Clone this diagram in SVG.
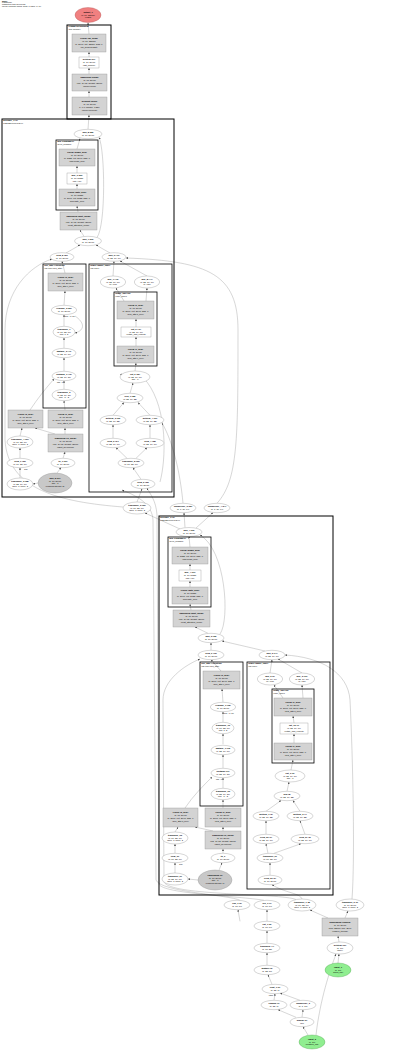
<svg xmlns="http://www.w3.org/2000/svg" width="400" height="1050" viewBox="0 0 400 1050">
<style>
.b{fill:#d3d3d3;stroke:#8c8c8c;stroke-width:.35}
.w{fill:#fff;stroke:#8c8c8c;stroke-width:.35}
.e{fill:#fff;stroke:#8c8c8c;stroke-width:.35}
.ge{fill:#c8c8c8;stroke:#8c8c8c;stroke-width:.35}
.red{fill:#f08080;stroke:#b05050;stroke-width:.35}
.grn{fill:#90ee90;stroke:#50a050;stroke-width:.35}
.c{fill:none;stroke:#000;stroke-width:1}
.ci{fill:none;stroke:#000;stroke-width:.8}
text{font-family:"Liberation Sans",Arial,sans-serif;font-size:2.2px;fill:#000;text-anchor:middle}
.h{font-weight:bold}
.l{text-anchor:start}
.s{font-size:1.9px}
.ti{font-size:1.8px}
#edges path{fill:none;stroke:#8c8c8c;stroke-width:.35;marker-end:url(#a)}
</style>
<defs>
<marker id="a" viewBox="0 0 10 10" refX="10" refY="5" markerWidth="2" markerHeight="2" orient="auto" markerUnits="userSpaceOnUse"><path d="M0,0L10,5L0,10z" fill="#444"/></marker>
</defs>
<g id="title">
<text class="l h ti" x="2" y="1.7">Model</text>
<text class="l ti" x="2" y="3.3">LlamaModel</text>
<text class="l ti" x="2" y="5.2">Parameters: total 12,945,792</text>
<text class="l ti" x="2" y="7">Layers: 2 decoder blocks, depth=3, batch=[1, 16]</text>
</g>
<g id="edges">
<path d="M89,34L88,22.6"/>
<path d="M89,57L89,52"/>
<path d="M89,74L89,68"/>
<path d="M89,97L89,91"/>
<path d="M88,129.3L89,115"/>
<path d="M77,149L80,138.6"/>
<path d="M77,173L77,166"/>
<path d="M77,189L77,184"/>
<path d="M78,212L77,206"/>
<path d="M84,236.4L80,230"/>
<path d="M97,237.5C106,225 105,150 99,137.5"/>
<path d="M66,253L80,245"/>
<path d="M110,253L96,245"/>
<path d="M65,273L62,261.3"/>
<path d="M64,305.3L65,291"/>
<path d="M64,326.3L64,314.7"/>
<path d="M64,348.3L64,337.7"/>
<path d="M64,371.3L64,357.7"/>
<path d="M64,389.3L64,380.7"/>
<path d="M65,410L64,400.7"/>
<path d="M65,434L65,428"/>
<path d="M55,434L35,428"/>
<path d="M63,458.3L65,452"/>
<path d="M57,473L61,467.6"/>
<path d="M20,436L22,428"/>
<path d="M20,458.3L20,448"/>
<path d="M20,478L20,467.7"/>
<path d="M38,483L33,484"/>
<path d="M30,410C38,398 46,388 54,379"/>
<path d="M123,507C60,502 8,490 5,440L5,330C5,290 30,266 52,259"/>
<path d="M75,316C84,322 86,330 75,333"/>
<path d="M113,276L114,261.3"/>
<path d="M147,276L120,261"/>
<path d="M124,301L116,288"/>
<path d="M146,301L147,288"/>
<path d="M136,327L136,319"/>
<path d="M136,346L136,337"/>
<path d="M135,371L136,363"/>
<path d="M130,393.3L133,383"/>
<path d="M113,415.3L124,402.5"/>
<path d="M150,415.3L138,402.5"/>
<path d="M113,438.3L113,424.7"/>
<path d="M150,438.3L150,424.7"/>
<path d="M127,458.3L116,447.7"/>
<path d="M136,458.3L147,447.7"/>
<path d="M141,479.3L133,467.7"/>
<path d="M137,502L142,488.7"/>
<path d="M183,503.3C180,470 172,440 162,423"/>
<path d="M217,503.3C238,480 238,440 238,330C238,275 210,261 126,258"/>
<path d="M160,482C166,460 168,410 147,382C140,374 130,372 120,375"/>
<path d="M185,527.5L184,512.7"/>
<path d="M180,529L145,513"/>
<path d="M196,528L213,512.7"/>
<path d="M190,547L189,536.5"/>
<path d="M190,570L190,564"/>
<path d="M190,587L190,581"/>
<path d="M191,610L190,604"/>
<path d="M208,633.3L195,627"/>
<path d="M220,634C230,620 226,550 200,535"/>
<path d="M211,650.3L211,642.7"/>
<path d="M265,651L222,641"/>
<path d="M221,671L211,659.7"/>
<path d="M223,702.3L222,689"/>
<path d="M223,722.3L223,711.7"/>
<path d="M223,744.3L223,733.7"/>
<path d="M223,768.3L223,754.7"/>
<path d="M223,788.3L223,777.7"/>
<path d="M223,808L223,799.7"/>
<path d="M223,831L223,827"/>
<path d="M213,831L195,827"/>
<path d="M223,853.3L223,849"/>
<path d="M219,870.3L222,862.7"/>
<path d="M175,832L178,827"/>
<path d="M175,853.3L175,844"/>
<path d="M175,873L175,862.7"/>
<path d="M198,880L188,879"/>
<path d="M185,808C193,796 203,786 212,777"/>
<path d="M296,899.5C280,893 170,896 164,882L163,700C163,680 185,665 200,659"/>
<path d="M270,673L272,659.7"/>
<path d="M302,673L278,659"/>
<path d="M283,698L274,685"/>
<path d="M303,698L302,685"/>
<path d="M294,723L293,716"/>
<path d="M294,743L294,734"/>
<path d="M291,770L293,760"/>
<path d="M287,791.3L289,782"/>
<path d="M266,811.3L281,800.5"/>
<path d="M300,811.3L293,800.5"/>
<path d="M266,834.3L266,820.7"/>
<path d="M305,834.3L300,820.7"/>
<path d="M268,853.3L266,843.7"/>
<path d="M274,853.3L301,843.7"/>
<path d="M270,875.3L270,862.7"/>
<path d="M240,900.3C230,895 160,892 156,880L153,520C152,505 140,497 122,490"/>
<path d="M264,900.3C240,896 162,894 159,884L157,515C156,500 150,494 147,488"/>
<path d="M302,899C300,893 285,893 272,884.7"/>
<path d="M352,899C355,860 353,760 350,700C348,672 320,657 285,655"/>
<path d="M240,921.3L238,909.7"/>
<path d="M267,921.3L267,909.7"/>
<path d="M267,943.3L267,930.7"/>
<path d="M267,965.3L267,952.7"/>
<path d="M272,984.3L268,974.7"/>
<path d="M274,1000.3L275,993.7"/>
<path d="M300,1000.3L280,993"/>
<path d="M296,1017.3L278,1009.7"/>
<path d="M302,1017.3L303,1009.7"/>
<path d="M308,1035L303,1026.7"/>
<path d="M316,1035C320,1000 330,970 336,954"/>
<path d="M338,963L339,954"/>
<path d="M339,942L338,936"/>
<path d="M328,918L310,910"/>
<path d="M345,918L348,911"/>
</g>
<g id="n_output"><ellipse class="red" cx="88" cy="15" rx="13" ry="7.5"/><text class="h" x="88" y="12.8">output_1</text><text x="88" y="15.6">[1, 16, 32000]</text><text x="88" y="18.4">(logits)</text></g>
<g id="c_top"><rect class="c" x="67" y="25" width="44" height="94"/><text class="l h" x="68.5" y="27.4">LlamaForCausalLM</text><text class="l" x="68.5" y="29.8">(top module)</text></g>
<g id="n_lm_head"><rect class="b" x="72" y="34" width="34" height="18"/><text class="h" x="89" y="38.6">Linear (lm_head)</text><text x="89" y="41.6">[1, 16, 32000]</text><text x="89" y="44.6">in=2048, out=32000, bias=F</text><text x="89" y="47.6">(lm_head.weight)</text></g>
<g id="n_getitem"><rect class="w" x="79" y="57" width="20" height="11"/><text class="h" x="89" y="60.4">getitem (61)</text><text x="89" y="63.2">[1, 16, 2048]</text><text x="89" y="66">(last_hidden)</text></g>
<g id="n_norm"><rect class="b" x="72" y="74" width="35" height="17"/><text class="h" x="89.5" y="78.1">RMSNorm (norm)</text><text x="89.5" y="81.1">[1, 16, 2048]</text><text x="89.5" y="84.1">eps=1e-05, weight=[2048]</text><text x="89.5" y="87.1">(model.norm)</text></g>
<g id="n_drop"><rect class="b" x="72" y="97" width="35" height="18"/><text class="h" x="89.5" y="101.6">Dropout (drop)</text><text x="89.5" y="104.6">[1, 16, 2048]</text><text x="89.5" y="107.6">p=0.0, inplace=False</text><text x="89.5" y="110.6">(model.dropout)</text></g>
<g id="c_layer1"><rect class="c" x="2" y="119" width="172" height="378"/><text class="l h" x="3.2" y="121.4">Decoder_1 (1)</text><text class="l" x="3.2" y="123.8">LlamaDecoderLayer</text></g>
<g id="n_add8"><ellipse class="e" cx="88" cy="134" rx="14" ry="4.7"/><text class="h" x="88" y="133.4">add_8 (58)</text><text x="88" y="136.2">[1, 16, 2048]</text></g>
<g id="c_mlp1"><rect class="ci" x="56" y="140" width="42" height="70"/><text class="l h" x="57.2" y="142.3">mlp (LlamaMLP)</text><text class="l" x="57.2" y="144.6">(feed_forward)</text></g>
<g id="n_down1"><rect class="b" x="59" y="149" width="36" height="17"/><text class="h" x="77" y="153.1">Linear (down_proj)</text><text x="77" y="156.1">[1, 16, 2048]</text><text x="77" y="159.1">in=5632, out=2048, bias=F</text><text x="77" y="162.1">(mlp.down_proj)</text></g>
<g id="n_mul9"><rect class="w" x="67" y="173" width="20" height="11"/><text class="h" x="77" y="176.4">mul_9 (56)</text><text x="77" y="179.2">[1, 16, 5632]</text><text x="77" y="182">(act * up)</text></g>
<g id="n_gate1"><rect class="b" x="59" y="189" width="36" height="17"/><text class="h" x="77" y="193.1">Linear (gate_proj)</text><text x="77" y="196.1">[1, 16, 5632]</text><text x="77" y="199.1">in=2048, out=5632, bias=F</text><text x="77" y="202.1">(mlp.gate_proj)</text></g>
<g id="n_post1"><rect class="b" x="60" y="212" width="37" height="18"/><text class="h" x="78.5" y="216.6">RMSNorm (post_norm)</text><text x="78.5" y="219.6">[1, 16, 2048]</text><text x="78.5" y="222.6">eps=1e-05, weight=[2048]</text><text x="78.5" y="225.6">(post_attention_norm)</text></g>
<g id="n_add7"><ellipse class="e" cx="88" cy="241" rx="13.5" ry="4.7"/><text class="h" x="88" y="240.4">add_7 (53)</text><text x="88" y="243.2">[1, 16, 2048]</text></g>
<g id="n_view5"><ellipse class="e" cx="62" cy="257" rx="12" ry="4.3"/><text class="h" x="62" y="256.4">view_5 (51)</text><text x="62" y="259.2">[1, 16, 2048]</text></g>
<g id="n_add6"><ellipse class="e" cx="114" cy="257" rx="12" ry="4.3"/><text class="h" x="114" y="256.4">add_6 (49)</text><text x="114" y="259.2">[1, 32, 16, 64]</text></g>
<g id="c_attn1"><rect class="ci" x="43" y="264" width="43" height="144"/><text class="l h" x="44.2" y="266.3">self_attn (Attention)</text><text class="l" x="44.2" y="268.6">(layers.1.self_attn)</text></g>
<g id="n_o1"><rect class="b" x="48" y="273" width="35" height="18"/><text class="h" x="65.5" y="277.6">Linear (o_proj)</text><text x="65.5" y="280.6">[1, 16, 2048]</text><text x="65.5" y="283.6">in=2048, out=2048, bias=F</text><text x="65.5" y="286.6">(self_attn.o_proj)</text></g>
<g id="n_reshape3"><ellipse class="e" cx="64" cy="310" rx="12.7" ry="4.7"/><text class="h" x="64" y="309.4">reshape_3 (50)</text><text x="64" y="312.2">[1, 16, 2048]</text><text class="s" x="70" y="317.4">size=(1, 16)</text></g>
<g id="n_transpose7"><ellipse class="e" cx="64" cy="332" rx="11" ry="5.7"/><text class="h" x="64" y="330">transpose_7</text><text x="64" y="332.6">[1, 16, 32, 64]</text><text x="64" y="335.2">dim=1, 2</text></g>
<g id="n_matmul3"><ellipse class="e" cx="64" cy="353" rx="12" ry="4.7"/><text class="h" x="64" y="352.4">matmul_3 (47)</text><text x="64" y="355.2">[1, 32, 16, 64]</text></g>
<g id="n_softmax1"><ellipse class="e" cx="64" cy="376" rx="12" ry="4.7"/><text class="h" x="64" y="375.4">softmax_1 (46)</text><text x="64" y="378.2">[1, 32, 16, 16]</text><text class="s" x="60" y="383.2">dim=-1</text></g>
<g id="n_transpose6"><ellipse class="e" cx="64" cy="395" rx="12" ry="5.7"/><text class="h" x="64" y="393">transpose_6</text><text x="64" y="395.6">[1, 32, 16, 16]</text><text x="64" y="398.2">dim=-1, -2</text></g>
<g id="c_rope1"><rect class="ci" x="89" y="264" width="83" height="228"/><text class="l h" x="90.2" y="266.3">rotary (apply_rope)</text><text class="l" x="90.2" y="268.6">(layers.1)</text></g>
<g id="n_mul7"><ellipse class="e" cx="113" cy="282" rx="12.7" ry="6"/><text class="h" x="113" y="280">mul_7 (43)</text><text x="113" y="282.6">[1, 32, 16, 64]</text><text x="113" y="285.2">(q * cos)</text></g>
<g id="n_mul8"><ellipse class="e" cx="147" cy="282" rx="12.7" ry="6"/><text class="h" x="147" y="280">mul_8 (44)</text><text x="147" y="282.6">[1, 32, 16, 64]</text><text x="147" y="285.2">(k * sin)</text></g>
<g id="c_inner1"><rect class="ci" x="114" y="292" width="43" height="74"/><text class="l h" x="115.2" y="294.3">rotate_half (fn)</text><text class="l" x="115.2" y="296.6">(rope_inner)</text></g>
<g id="n_k1"><rect class="b" x="117" y="301" width="37" height="18"/><text class="h" x="135.5" y="305.6">Linear (k_proj)</text><text x="135.5" y="308.6">[1, 16, 2048]</text><text x="135.5" y="311.6">in=2048, out=2048, bias=F</text><text x="135.5" y="314.6">(self_attn.k_proj)</text></g>
<g id="n_cat3"><rect class="w" x="121" y="327" width="30" height="10"/><text class="h" x="136" y="329.9">cat_3 (41)</text><text x="136" y="332.5">[1, 32, 16, 64]</text><text x="136" y="335.1">(rotate_half_concat)</text></g>
<g id="n_v1"><rect class="b" x="117" y="346" width="37" height="17"/><text class="h" x="135.5" y="350.1">Linear (v_proj)</text><text x="135.5" y="353.1">[1, 16, 2048]</text><text x="135.5" y="356.1">in=2048, out=2048, bias=F</text><text x="135.5" y="359.1">(self_attn.v_proj)</text></g>
<g id="n_cat2"><ellipse class="e" cx="135" cy="377" rx="15" ry="6"/><text class="h" x="135" y="375">cat_2 (39)</text><text x="135" y="377.6">[1, 32, 16, 64]</text><text x="135" y="380.2">dim=-1</text></g>
<g id="n_neg1"><ellipse class="e" cx="130" cy="398" rx="13" ry="4.7"/><text class="h" x="130" y="397.4">neg_1 (38)</text><text x="130" y="400.2">[1, 32, 16, 32]</text></g>
<g id="n_getitem3"><ellipse class="e" cx="113" cy="420" rx="13" ry="4.7"/><text class="h" x="113" y="419.4">getitem_3 (36)</text><text x="113" y="422.2">[1, 32, 16, 32]</text></g>
<g id="n_getitem4"><ellipse class="e" cx="150" cy="420" rx="14" ry="4.7"/><text class="h" x="150" y="419.4">getitem_4 (37)</text><text x="150" y="422.2">[1, 32, 16, 32]</text></g>
<g id="n_view3"><ellipse class="e" cx="113" cy="443" rx="13" ry="4.7"/><text class="h" x="113" y="442.4">view_3 (34)</text><text x="113" y="445.2">[1, 32, 16, 64]</text></g>
<g id="n_view4"><ellipse class="e" cx="150" cy="443" rx="14" ry="4.7"/><text class="h" x="150" y="442.4">view_4 (35)</text><text x="150" y="445.2">[1, 32, 16, 64]</text></g>
<g id="n_transpose5"><ellipse class="e" cx="131" cy="463" rx="13" ry="4.7"/><text class="h" x="131" y="462.4">transpose_5 (33)</text><text x="131" y="465.2">[1, 16, 32, 64]</text></g>
<g id="n_view2"><ellipse class="e" cx="143" cy="484" rx="12" ry="4.7"/><text class="h" x="143" y="483.4">view_2 (32)</text><text x="143" y="486.2">[1, 16, 2048]</text></g>
<g id="n_q1"><rect class="b" x="8" y="410" width="35" height="18"/><text class="h" x="25.5" y="414.6">Linear (q_proj)</text><text x="25.5" y="417.6">[1, 16, 2048]</text><text x="25.5" y="420.6">in=2048, out=2048, bias=F</text><text x="25.5" y="423.6">(self_attn.q_proj)</text></g>
<g id="n_k1b"><rect class="b" x="48" y="410" width="35" height="18"/><text class="h" x="65.5" y="414.6">Linear (k_proj)</text><text x="65.5" y="417.6">[1, 16, 2048]</text><text x="65.5" y="420.6">in=2048, out=2048, bias=F</text><text x="65.5" y="423.6">(self_attn.k_proj)</text></g>
<g id="n_in1"><rect class="b" x="48" y="434" width="35" height="18"/><text class="h" x="65.5" y="438.6">RMSNorm (in_norm)</text><text x="65.5" y="441.6">[1, 16, 2048]</text><text x="65.5" y="444.6">eps=1e-05, weight=[2048]</text><text x="65.5" y="447.6">(input_layernorm)</text></g>
<g id="n_transpose4"><ellipse class="e" cx="20" cy="442" rx="13" ry="6"/><text class="h" x="20" y="440">transpose_4 (31)</text><text x="20" y="442.6">[1, 16, 32, 64]</text><text x="20" y="445.2">dim0=1, dim1=2</text></g>
<g id="n_view1"><ellipse class="e" cx="20" cy="463" rx="13" ry="4.7"/><text class="h" x="20" y="462.4">view_1 (30)</text><text x="20" y="465.2">[1, 16, 32, 64]</text><text class="s" x="26" y="470.2">size</text></g>
<g id="n_to1"><ellipse class="e" cx="63" cy="463" rx="12" ry="4.7"/><text class="h" x="63" y="462.4">to_1 (29)</text><text x="63" y="465.2">[1, 16, 2048]</text></g>
<g id="n_transpose3"><ellipse class="e" cx="20" cy="484" rx="13" ry="6"/><text class="h" x="20" y="482">transpose_3 (28)</text><text x="20" y="484.6">[1, 32, 16, 64]</text><text x="20" y="487.2">dim0=1, dim1=2</text></g>
<g id="n_add5"><ellipse class="ge" cx="55" cy="483" rx="17" ry="10"/><text class="h" x="55" y="479.2">add_5 (27)</text><text x="55" y="481.8">[1, 16, 2048]</text><text x="55" y="484.4">dim=-1</text><text x="55" y="487">(residual stream, 2)</text></g>
<g id="n_transpose2"><ellipse class="e" cx="137" cy="508" rx="14" ry="6"/><text class="h" x="137" y="506">transpose_2 (26)</text><text x="137" y="508.6">[1, 16, 32, 64]</text><text x="137" y="511.2">dim0=1, dim1=2</text></g>
<g id="n_unsq3"><ellipse class="e" cx="183" cy="508" rx="13" ry="4.7"/><text class="h" x="183" y="507.4">unsqueeze_3 (25)</text><text x="183" y="510.2">[1, 1, 16, 64]</text></g>
<g id="n_unsq4"><ellipse class="e" cx="217" cy="508" rx="13" ry="4.7"/><text class="h" x="217" y="507.4">unsqueeze_4 (24)</text><text x="217" y="510.2">[1, 1, 16, 64]</text></g>
<g id="c_layer0"><rect class="c" x="159" y="516" width="174" height="379"/><text class="l h" x="160.2" y="518.4">Decoder_0 (0)</text><text class="l" x="160.2" y="520.8">LlamaDecoderLayer</text></g>
<g id="n_add4"><ellipse class="e" cx="189" cy="532" rx="13" ry="4.5"/><text class="h" x="189" y="531.4">add_4 (23)</text><text x="189" y="534.2">[1, 16, 2048]</text></g>
<g id="c_mlp0"><rect class="ci" x="168" y="537" width="43" height="70"/><text class="l h" x="169.2" y="539.3">mlp (LlamaMLP)</text><text class="l" x="169.2" y="541.6">(feed_forward)</text></g>
<g id="n_down0"><rect class="b" x="172" y="547" width="36" height="17"/><text class="h" x="190" y="551.1">Linear (down_proj)</text><text x="190" y="554.1">[1, 16, 2048]</text><text x="190" y="557.1">in=5632, out=2048, bias=F</text><text x="190" y="560.1">(mlp.down_proj)</text></g>
<g id="n_mul4"><rect class="w" x="179" y="570" width="22" height="11"/><text class="h" x="190" y="573.4">mul_4 (21)</text><text x="190" y="576.2">[1, 16, 5632]</text><text x="190" y="579">(act * up)</text></g>
<g id="n_gate0"><rect class="b" x="172" y="587" width="36" height="17"/><text class="h" x="190" y="591.1">Linear (gate_proj)</text><text x="190" y="594.1">[1, 16, 5632]</text><text x="190" y="597.1">in=2048, out=5632, bias=F</text><text x="190" y="600.1">(mlp.gate_proj)</text></g>
<g id="n_post0"><rect class="b" x="173" y="610" width="37" height="17"/><text class="h" x="191.5" y="614.1">RMSNorm (post_norm)</text><text x="191.5" y="617.1">[1, 16, 2048]</text><text x="191.5" y="620.1">eps=1e-05, weight=[2048]</text><text x="191.5" y="623.1">(post_attention_norm)</text></g>
<g id="n_add3"><ellipse class="e" cx="211" cy="638" rx="13" ry="4.7"/><text class="h" x="211" y="637.4">add_3 (18)</text><text x="211" y="640.2">[1, 16, 2048]</text></g>
<g id="n_view0"><ellipse class="e" cx="211" cy="655" rx="13" ry="4.7"/><text class="h" x="211" y="654.4">view_0 (16)</text><text x="211" y="657.2">[1, 16, 2048]</text></g>
<g id="n_add2"><ellipse class="e" cx="272" cy="655" rx="13" ry="4.7"/><text class="h" x="272" y="654.4">add_2 (14)</text><text x="272" y="657.2">[1, 32, 16, 64]</text></g>
<g id="c_attn0"><rect class="ci" x="200" y="662" width="43" height="144"/><text class="l h" x="201.2" y="664.3">self_attn (Attention)</text><text class="l" x="201.2" y="666.6">(layers.0.self_attn)</text></g>
<g id="n_o0"><rect class="b" x="203" y="671" width="37" height="18"/><text class="h" x="221.5" y="675.6">Linear (o_proj)</text><text x="221.5" y="678.6">[1, 16, 2048]</text><text x="221.5" y="681.6">in=2048, out=2048, bias=F</text><text x="221.5" y="684.6">(self_attn.o_proj)</text></g>
<g id="n_reshape1"><ellipse class="e" cx="223" cy="707" rx="12.7" ry="4.7"/><text class="h" x="223" y="706.4">reshape_1 (15)</text><text x="223" y="709.2">[1, 16, 2048]</text><text class="s" x="229" y="714.4">size=(1, 16)</text></g>
<g id="n_transpose1b"><ellipse class="e" cx="223" cy="728" rx="11" ry="5.7"/><text class="h" x="223" y="726">transpose_1b</text><text x="223" y="728.6">[1, 16, 32, 64]</text><text x="223" y="731.2">dim=1, 2</text></g>
<g id="n_matmul1"><ellipse class="e" cx="223" cy="750" rx="12" ry="4.7"/><text class="h" x="223" y="749.4">matmul_1 (12)</text><text x="223" y="752.2">[1, 32, 16, 64]</text></g>
<g id="n_softmax0"><ellipse class="e" cx="223" cy="773" rx="12" ry="4.7"/><text class="h" x="223" y="772.4">softmax (11)</text><text x="223" y="775.2">[1, 32, 16, 16]</text><text class="s" x="219" y="780.2">dim=-1</text></g>
<g id="n_transpose0b"><ellipse class="e" cx="223" cy="794" rx="12" ry="5.7"/><text class="h" x="223" y="792">transpose_0b</text><text x="223" y="794.6">[1, 32, 16, 16]</text><text x="223" y="797.2">dim=-1, -2</text></g>
<g id="c_rope0"><rect class="ci" x="247" y="662" width="83" height="227"/><text class="l h" x="248.2" y="664.3">rotary (apply_rope)</text><text class="l" x="248.2" y="666.6">(layers.0)</text></g>
<g id="n_mul2"><ellipse class="e" cx="270" cy="679" rx="12.7" ry="6"/><text class="h" x="270" y="677">mul_2 (9)</text><text x="270" y="679.6">[1, 32, 16, 64]</text><text x="270" y="682.2">(q * cos)</text></g>
<g id="n_mul3"><ellipse class="e" cx="302" cy="679" rx="12.7" ry="6"/><text class="h" x="302" y="677">mul_3 (10)</text><text x="302" y="679.6">[1, 32, 16, 64]</text><text x="302" y="682.2">(k * sin)</text></g>
<g id="c_inner0"><rect class="ci" x="272" y="689" width="42" height="74"/><text class="l h" x="273.2" y="691.3">rotate_half (fn)</text><text class="l" x="273.2" y="693.6">(rope_inner)</text></g>
<g id="n_k0"><rect class="b" x="274" y="698" width="38" height="18"/><text class="h" x="293" y="702.6">Linear (k_proj)</text><text x="293" y="705.6">[1, 16, 2048]</text><text x="293" y="708.6">in=2048, out=2048, bias=F</text><text x="293" y="711.6">(self_attn.k_proj)</text></g>
<g id="n_cat1b"><rect class="w" x="280" y="723" width="28" height="11"/><text class="h" x="294" y="726.4">cat_1b (7)</text><text x="294" y="729.2">[1, 32, 16, 64]</text><text x="294" y="732">(rotate_half_concat)</text></g>
<g id="n_v0"><rect class="b" x="274" y="743" width="38" height="17"/><text class="h" x="293" y="747.1">Linear (v_proj)</text><text x="293" y="750.1">[1, 16, 2048]</text><text x="293" y="753.1">in=2048, out=2048, bias=F</text><text x="293" y="756.1">(self_attn.v_proj)</text></g>
<g id="n_cat0"><ellipse class="e" cx="290" cy="776" rx="15" ry="6"/><text class="h" x="290" y="774">cat_0 (6)</text><text x="290" y="776.6">[1, 32, 16, 64]</text><text x="290" y="779.2">dim=-1</text></g>
<g id="n_neg0"><ellipse class="e" cx="287" cy="796" rx="13" ry="4.7"/><text class="h" x="287" y="795.4">neg (5)</text><text x="287" y="798.2">[1, 32, 16, 32]</text></g>
<g id="n_getitem1"><ellipse class="e" cx="266" cy="816" rx="13" ry="4.7"/><text class="h" x="266" y="815.4">getitem_1 (3)</text><text x="266" y="818.2">[1, 32, 16, 32]</text></g>
<g id="n_getitem2"><ellipse class="e" cx="300" cy="816" rx="13" ry="4.7"/><text class="h" x="300" y="815.4">getitem_2 (4)</text><text x="300" y="818.2">[1, 32, 16, 32]</text></g>
<g id="n_view0b"><ellipse class="e" cx="266" cy="839" rx="13" ry="4.7"/><text class="h" x="266" y="838.4">view_0b (1)</text><text x="266" y="841.2">[1, 32, 16, 64]</text></g>
<g id="n_view0c"><ellipse class="e" cx="305" cy="839" rx="14" ry="4.7"/><text class="h" x="305" y="838.4">view_0c (2)</text><text x="305" y="841.2">[1, 32, 16, 64]</text></g>
<g id="n_transpose0c"><ellipse class="e" cx="270" cy="858" rx="13" ry="4.7"/><text class="h" x="270" y="857.4">transpose_0c</text><text x="270" y="860.2">[1, 16, 32, 64]</text></g>
<g id="n_view0d"><ellipse class="e" cx="270" cy="880" rx="12" ry="4.7"/><text class="h" x="270" y="879.4">view_0d (0)</text><text x="270" y="882.2">[1, 16, 2048]</text></g>
<g id="n_q0"><rect class="b" x="163" y="808" width="35" height="19"/><text class="h" x="180.5" y="813.1">Linear (q_proj)</text><text x="180.5" y="816.1">[1, 16, 2048]</text><text x="180.5" y="819.1">in=2048, out=2048, bias=F</text><text x="180.5" y="822.1">(self_attn.q_proj)</text></g>
<g id="n_k0b"><rect class="b" x="205" y="808" width="36" height="19"/><text class="h" x="223" y="813.1">Linear (k_proj)</text><text x="223" y="816.1">[1, 16, 2048]</text><text x="223" y="819.1">in=2048, out=2048, bias=F</text><text x="223" y="822.1">(self_attn.k_proj)</text></g>
<g id="n_in0"><rect class="b" x="205" y="831" width="36" height="18"/><text class="h" x="223" y="835.6">RMSNorm (in_norm)</text><text x="223" y="838.6">[1, 16, 2048]</text><text x="223" y="841.6">eps=1e-05, weight=[2048]</text><text x="223" y="844.6">(input_layernorm)</text></g>
<g id="n_transpose0d"><ellipse class="e" cx="175" cy="838" rx="13" ry="6"/><text class="h" x="175" y="836">transpose_0d</text><text x="175" y="838.6">[1, 16, 32, 64]</text><text x="175" y="841.2">dim0=1, dim1=2</text></g>
<g id="n_view0e"><ellipse class="e" cx="175" cy="858" rx="13" ry="4.7"/><text class="h" x="175" y="857.4">view_0e</text><text x="175" y="860.2">[1, 16, 32, 64]</text><text class="s" x="181" y="865.2">size</text></g>
<g id="n_to0"><ellipse class="e" cx="223" cy="858" rx="12" ry="4.7"/><text class="h" x="223" y="857.4">to_0</text><text x="223" y="860.2">[1, 16, 2048]</text></g>
<g id="n_transpose0e"><ellipse class="e" cx="175" cy="879" rx="13" ry="6"/><text class="h" x="175" y="877">transpose_0e</text><text x="175" y="879.6">[1, 32, 16, 64]</text><text x="175" y="882.2">dim0=1, dim1=2</text></g>
<g id="n_emb_out"><ellipse class="ge" cx="215" cy="880" rx="17" ry="10"/><text class="h" x="215" y="876.2">embedding (0)</text><text x="215" y="878.8">[1, 16, 2048]</text><text x="215" y="881.4">dim=-1</text><text x="215" y="884">(residual stream, 1)</text></g>
<g id="n_cos"><ellipse class="e" cx="237" cy="905" rx="13" ry="4.7"/><text class="h" x="237" y="904.4">cos_1 (6)</text><text x="237" y="907.2">[1, 16, 64]</text></g>
<g id="n_sin"><ellipse class="e" cx="267" cy="905" rx="13" ry="4.7"/><text class="h" x="267" y="904.4">sin_1 (7)</text><text x="267" y="907.2">[1, 16, 64]</text></g>
<g id="n_transpose"><ellipse class="e" cx="302" cy="905" rx="14" ry="6"/><text class="h" x="302" y="903">transpose_1 (8)</text><text x="302" y="905.6">[1, 16, 32, 64]</text><text x="302" y="908.2">dim0=1, dim1=2</text></g>
<g id="n_to"><ellipse class="e" cx="350" cy="905" rx="14" ry="6"/><text class="h" x="350" y="903">transpose_2 (9)</text><text x="350" y="905.6">[1, 16, 2048]</text><text x="350" y="908.2">dim0=1, dim1=2</text></g>
<g id="n_embed"><rect class="b" x="322" y="918" width="36" height="18"/><text class="h" x="340" y="922.6">Embedding (embed)</text><text x="340" y="925.6">[1, 16, 2048]</text><text x="340" y="928.6">num=32000, dim=2048</text><text x="340" y="931.6">(embed_tokens)</text></g>
<g id="n_cat"><ellipse class="e" cx="267" cy="926" rx="13" ry="4.7"/><text class="h" x="267" y="925.4">cat_1 (5)</text><text x="267" y="928.2">[1, 16, 64]</text></g>
<g id="n_transposeb"><ellipse class="e" cx="267" cy="948" rx="13" ry="4.7"/><text class="h" x="267" y="947.4">transpose (4)</text><text x="267" y="950.2">[1, 16, 32]</text></g>
<g id="n_matmul"><ellipse class="e" cx="267" cy="970" rx="13" ry="4.7"/><text class="h" x="267" y="969.4">matmul (3)</text><text x="267" y="972.2">[1, 32, 16]</text></g>
<g id="n_float"><ellipse class="e" cx="275" cy="989" rx="13" ry="4.7"/><text class="h" x="275" y="988.4">float_1 (2)</text><text x="275" y="991.2">[1, 32, 1]</text><text class="s" x="271" y="996.2">other</text></g>
<g id="n_expand"><ellipse class="e" cx="274" cy="1005" rx="13" ry="4.7"/><text class="h" x="274" y="1004.4">expand (1)</text><text x="274" y="1007.2">[1, 32, 1]</text></g>
<g id="n_unsq"><ellipse class="e" cx="303" cy="1005" rx="13" ry="4.7"/><text class="h" x="303" y="1004.4">unsqueeze_2</text><text x="303" y="1007.2">[1, 1, 16]</text></g>
<g id="n_arange"><ellipse class="e" cx="302" cy="1022" rx="12" ry="4.7"/><text class="h" x="302" y="1021.4">arange (0)</text><text x="302" y="1024.2">[16]</text></g>
<g id="n_input2"><ellipse class="grn" cx="312" cy="1042" rx="13" ry="7"/><text class="h" x="312" y="1039.8">input_2</text><text x="312" y="1042.6">[1, 16]</text><text x="312" y="1045.4">(position_ids)</text></g>
<g id="n_getitem"><ellipse class="e" cx="340" cy="948" rx="13" ry="6"/><text class="h" x="340" y="946">getitem (10)</text><text x="340" y="948.6">[1, 16]</text><text x="340" y="951.2">(slice)</text></g>
<g id="n_input1"><ellipse class="grn" cx="338" cy="970" rx="13" ry="7"/><text class="h" x="338" y="967.8">input_1</text><text x="338" y="970.6">[1, 16]</text><text x="338" y="973.4">(input_ids)</text></g>
</svg>
